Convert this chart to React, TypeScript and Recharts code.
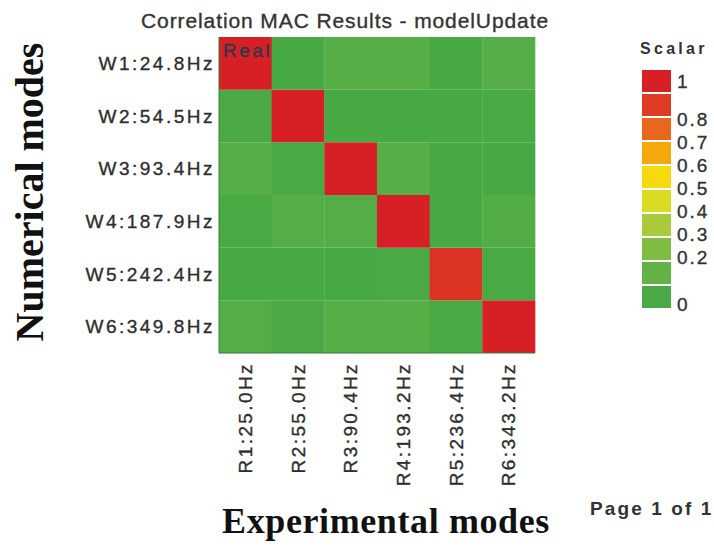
import { BarChart, Bar, Cell, XAxis, YAxis, LabelList } from "recharts";

const expModes = ["R1:25.0Hz", "R2:55.0Hz", "R3:90.4Hz", "R4:193.2Hz", "R5:236.4Hz", "R6:343.2Hz"];
const numModes = ["W1:24.8Hz", "W2:54.5Hz", "W3:93.4Hz", "W4:187.9Hz", "W5:242.4Hz", "W6:349.8Hz"];

// MAC values, one array per numerical mode, columns R1..R6
const macW1 = [1.0, 0.02, 0.1, 0.1, 0.02, 0.09];
const macW2 = [0.04, 1.0, 0.02, 0.02, 0.02, 0.03];
const macW3 = [0.1, 0.03, 1.0, 0.1, 0.02, 0.02];
const macW4 = [0.03, 0.09, 0.09, 1.0, 0.02, 0.08];
const macW5 = [0.02, 0.02, 0.02, 0.03, 0.93, 0.03];
const macW6 = [0.09, 0.04, 0.1, 0.1, 0.03, 1.0];
const macRows = [macW1, macW2, macW3, macW4, macW5, macW6];

// colour scale
const scaleStops = [0, 0.1, 0.2, 0.3, 0.4, 0.5, 0.6, 0.7, 0.8, 0.9, 1];
const scaleColors = [
  "#43a843", "#56ae47", "#6bb545", "#8cc140", "#b4cf36", "#dcdc22",
  "#f7d60f", "#f2a20f", "#ea681e", "#e03c23", "#d71f26",
];
const legendColors = [
  "#d71f26", "#e03b23", "#e9661e", "#f3a90c", "#f6d90f",
  "#d9dc22", "#a9ca3a", "#7fbc42", "#62b246", "#4aa946",
];
const legendTicks = ["1", "0.8", "0.7", "0.6", "0.5", "0.4", "0.3", "0.2", "0"];

const SANS = "'Liberation Sans', Arial, sans-serif";
const SERIF = "'Liberation Serif', 'Times New Roman', serif";
const INK = "#2e2e2e";

const hex = (c: string) => [1, 3, 5].map((i) => parseInt(c.slice(i, i + 2), 16));
const macColor = (v: number) => {
  let i = 0;
  while (i < scaleStops.length - 2 && v > scaleStops[i + 1]) i++;
  const t = (v - scaleStops[i]) / (scaleStops[i + 1] - scaleStops[i]);
  const a = hex(scaleColors[i]);
  const b = hex(scaleColors[i + 1]);
  const m = a.map((x, k) => Math.round(x + (b[k] - x) * Math.min(1, Math.max(0, t))));
  return `rgb(${m[0]},${m[1]},${m[2]})`;
};

// every cell has height 1 in the stack, the colour carries the MAC value
const chartData = expModes.map((exp) => {
  const row: Record<string, string | number> = { exp };
  numModes.forEach((_, i) => (row["W" + (i + 1)] = 1));
  return row;
});
const stackOrder = [5, 4, 3, 2, 1, 0]; // W6 at the bottom

const XTick = (props: any) => {
  const { x, y, payload } = props;
  return (
    <g transform={`translate(${x},${y + 7})`}>
      <text
        x={0}
        y={0}
        textAnchor="end"
        dominantBaseline="central"
        transform="rotate(-90)"
        fontFamily={SANS}
        fontSize={19}
        letterSpacing={2.4}
        fill={INK}
        stroke={INK}
        strokeWidth={0.35}
      >
        {payload.value}
      </text>
    </g>
  );
};

const YTick = (props: any) => {
  const { x, y, payload } = props;
  return (
    <text
      x={x}
      y={y}
      textAnchor="end"
      dominantBaseline="central"
      fontFamily={SANS}
      fontSize={19}
      letterSpacing={2.5}
      fill={INK}
      stroke={INK}
      strokeWidth={0.35}
    >
      {numModes[Math.round(5.5 - payload.value)]}
    </text>
  );
};

const RealLabel = (props: any) => {
  if (props.index !== 0) return null;
  return (
    <text
      x={props.x + 4}
      y={props.y + 20}
      fontFamily={SANS}
      fontSize={19}
      letterSpacing={2.5}
      fill="#2d3a4a"
      stroke="#2d3a4a"
      strokeWidth={0.35}
    >
      Real
    </text>
  );
};

const legendY = (v: number) => Math.max(81, 304 - v * 231);

const App = () => {
  return (
    <div style={{ position: "absolute", left: 0, top: 0, width: 714, height: 548, background: "#fff" }}>
      <BarChart
        width={714}
        height={548}
        data={chartData}
        margin={{ top: 37, right: 179, left: 99, bottom: 65 }}
        barCategoryGap={0}
        barGap={0}
      >
        <XAxis
          dataKey="exp"
          interval={0}
          height={130}
          tickLine={false}
          tickSize={0}
          axisLine={{ stroke: "#3a7f3a" }}
          tick={<XTick />}
        />
        <XAxis xAxisId="top" dataKey="exp" orientation="top" height={0} tick={false} tickLine={false} axisLine={{ stroke: "#3a7f3a" }} />
        <YAxis
          type="number"
          domain={[0, 6]}
          ticks={[0.5, 1.5, 2.5, 3.5, 4.5, 5.5]}
          width={120}
          tickLine={false}
          tickSize={0}
          tickMargin={4}
          axisLine={{ stroke: "#3a7f3a" }}
          tick={<YTick />}
        />
        <YAxis yAxisId="right" orientation="right" width={0} domain={[0, 6]} tick={false} tickLine={false} axisLine={{ stroke: "#3a7f3a" }} />
        {stackOrder.map((i) => (
          <Bar key={i} dataKey={"W" + (i + 1)} stackId="mac" isAnimationActive={false}>
            {expModes.map((_, j) => (
              <Cell key={j} fill={macColor(macRows[i][j])} />
            ))}
            {i === 0 && <LabelList dataKey="W1" content={<RealLabel />} />}
          </Bar>
        ))}
      </BarChart>
      <svg width={714} height={548} style={{ position: "absolute", left: 0, top: 0, pointerEvents: "none" }}>
        <text
          x={345}
          y={28}
          textAnchor="middle"
          fontFamily={SANS}
          fontSize={21}
          letterSpacing={0.9}
          fill="#333"
          stroke="#333"
          strokeWidth={0.35}
        >
          Correlation MAC Results - modelUpdate
        </text>
        <text
          x={0}
          y={0}
          transform="translate(43,192) rotate(-90)"
          textAnchor="middle"
          fontFamily={SERIF}
          fontWeight="bold"
          fontSize={40}
          fill="#111"
        >
          Numerical modes
        </text>
        <text x={386} y={533} textAnchor="middle" fontFamily={SERIF} fontWeight="bold" fontSize={36} letterSpacing={0.6} fill="#111">
          Experimental modes
        </text>
        <text x={590} y={515} fontFamily={SANS} fontWeight="bold" fontSize={19} letterSpacing={2.1} fill="#333">
          Page 1 of 1
        </text>
        <text x={640} y={54} fontFamily={SANS} fontWeight="bold" fontSize={16} letterSpacing={3.3} fill="#333">
          Scalar
        </text>
        {legendColors.map((c, k) => (
          <rect key={k} x={642} y={70 + k * 24} width={29} height={22} fill={c} />
        ))}
        {legendTicks.map((t) => (
          <text
            key={t}
            x={677}
            y={legendY(parseFloat(t))}
            dominantBaseline="central"
            fontFamily={SANS}
            fontSize={19}
            letterSpacing={2}
            fill="#333"
            stroke="#333"
            strokeWidth={0.35}
          >
            {t}
          </text>
        ))}
      </svg>
    </div>
  );
};

export default App;
